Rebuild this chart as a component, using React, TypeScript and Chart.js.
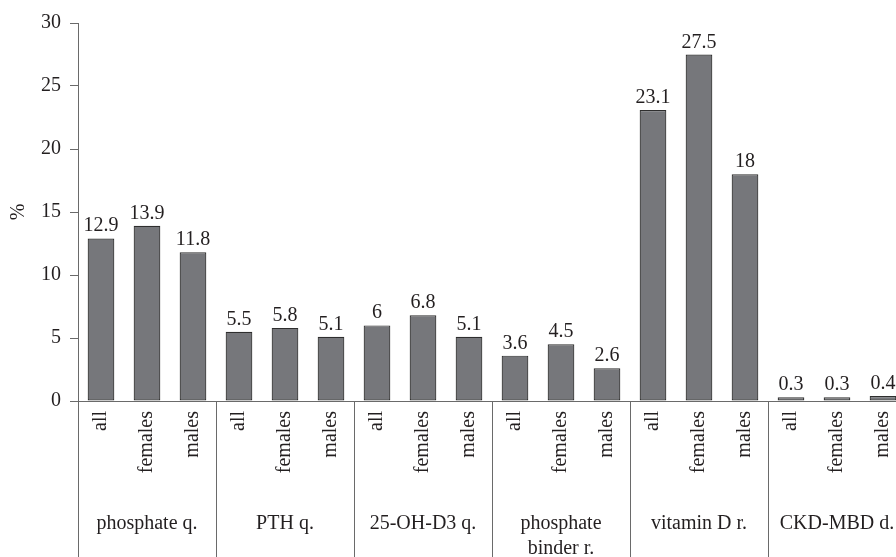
import React, { useEffect, useRef } from "react";
import { Chart, registerables } from "chart.js";
Chart.register(...registerables);

const subgroups = ["all", "females", "males"];
const groupLabels: string[][] = [
  ["phosphate q."],
  ["PTH q."],
  ["25-OH-D3 q."],
  ["phosphate", "binder r."],
  ["vitamin D r."],
  ["CKD-MBD d."],
];
const phosphateQ = [12.9, 13.9, 11.8];
const pthQ = [5.5, 5.8, 5.1];
const ohD3Q = [6, 6.8, 5.1];
const binderR = [3.6, 4.5, 2.6];
const vitaminDR = [23.1, 27.5, 18];
const ckdMbdD = [0.3, 0.3, 0.4];
const yMin = 0;
const yMax = 30;
const yStep = 5;
const yTitle = "%";

const FONT = "'Liberation Serif', 'DejaVu Serif', serif";
const FS = 20;
const TEXT = "#231f20";
const AXIS = "#6a6a6a";

export default function App() {
  const ref = useRef<HTMLCanvasElement | null>(null);
  useEffect(() => {
    if (!ref.current) return;
    const values = [...phosphateQ, ...pthQ, ...ohD3Q, ...binderR, ...vitaminDR, ...ckdMbdD];
    const labels: string[] = [];
    groupLabels.forEach(() => subgroups.forEach((s) => labels.push(s)));

    const overlay = {
      id: "overlay",
      afterDatasetsDraw(chart: any) {
        const ctx = chart.ctx;
        const meta = chart.getDatasetMeta(0);
        ctx.save();
        ctx.fillStyle = TEXT;
        ctx.font = `${FS}px ${FONT}`;
        ctx.textAlign = "center";
        ctx.textBaseline = "alphabetic";
        meta.data.forEach((bar: any, i: number) => {
          ctx.fillText(String(values[i]), bar.x, bar.y - 7);
        });
        ctx.restore();
      },
      afterDraw(chart: any) {
        const ctx = chart.ctx;
        const x = chart.scales.x;
        const area = chart.chartArea;
        ctx.save();
        ctx.strokeStyle = AXIS;
        ctx.lineWidth = 1;
        for (let g = 0; g <= groupLabels.length; g++) {
          const px = Math.round(x.getPixelForValue(g * subgroups.length - 0.5)) + 0.5;
          ctx.beginPath();
          ctx.moveTo(px, area.bottom);
          ctx.lineTo(px, chart.height);
          ctx.stroke();
        }
        ctx.fillStyle = TEXT;
        ctx.font = `${FS}px ${FONT}`;
        ctx.textAlign = "center";
        ctx.textBaseline = "middle";
        groupLabels.forEach((lines, g) => {
          const cx = x.getPixelForValue(g * subgroups.length + 1);
          lines.forEach((ln, k) => {
            ctx.fillText(ln, cx, area.bottom + 123 + k * 25);
          });
        });
        ctx.translate(19, (area.top + area.bottom) / 2);
        ctx.rotate(-Math.PI / 2);
        ctx.fillText(yTitle, 0, 0);
        ctx.restore();
      },
    };

    const chart = new Chart(ref.current, {
      type: "bar",
      data: {
        labels,
        datasets: [
          {
            data: values,
            backgroundColor: "#76777b",
            borderColor: "#2e2e2e",
            borderWidth: 1.2,
            borderSkipped: false,
            categoryPercentage: 1,
            barPercentage: 0.58,
          },
        ],
      },
      options: {
        responsive: false,
        animation: false,
        layout: { padding: { top: 23, right: 14, left: 0, bottom: 0 } },
        plugins: { legend: { display: false }, tooltip: { enabled: false } },
        scales: {
          x: {
            grid: { display: false, drawTicks: false },
            border: { display: true, color: AXIS, width: 1 },
            ticks: {
              autoSkip: false,
              maxRotation: 90,
              minRotation: 90,
              padding: 10,
              color: TEXT,
              font: { family: FONT, size: FS },
            },
            afterFit: (s: any) => {
              s.height = 156;
            },
          },
          y: {
            min: yMin,
            max: yMax,
            grid: { drawOnChartArea: false, drawTicks: true, tickLength: 8, color: AXIS },
            border: { display: true, color: AXIS, width: 1 },
            ticks: {
              stepSize: yStep,
              padding: 9,
              color: TEXT,
              font: { family: FONT, size: FS },
            },
            afterFit: (s: any) => {
              s.width = 78;
            },
          },
        },
      },
      plugins: [overlay],
    });
    return () => chart.destroy();
  }, []);

  return (
    <div
      style={{
        position: "fixed",
        left: 0,
        top: 0,
        width: 896,
        height: 557,
        overflow: "hidden",
        background: "#fff",
      }}
    >
      <canvas ref={ref} width={920} height={557} style={{ width: 920, height: 557, display: "block" }} />
    </div>
  );
}
